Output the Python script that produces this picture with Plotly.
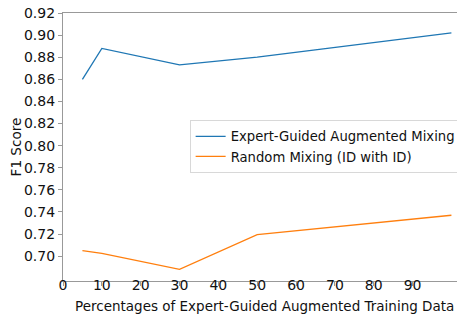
import plotly.graph_objects as go

x_vals = [5, 10, 30, 50, 100]
expert_guided = [0.860, 0.888, 0.873, 0.880, 0.902]
random_mixing = [0.705, 0.7025, 0.688, 0.7195, 0.737]
x_ticks = [0, 10, 20, 30, 40, 50, 60, 70, 80, 90]
y_ticks = [0.70, 0.72, 0.74, 0.76, 0.78, 0.80, 0.82, 0.84, 0.86, 0.88, 0.90, 0.92]
x_title = "Percentages of Expert-Guided Augmented Training Data"
y_title = "F1 Score"
x_range = [0, 103.5]

fig = go.Figure()
fig.add_trace(go.Scatter(x=x_vals, y=expert_guided, mode="lines",
                         name="Expert-Guided Augmented Mixing",
                         line=dict(color="#1f77b4", width=1.3)))
fig.add_trace(go.Scatter(x=x_vals, y=random_mixing, mode="lines",
                         name="Random Mixing (ID with ID)",
                         line=dict(color="#ff7f0e", width=1.3)))
# invisible helper trace so the label-carrying x axis is drawn
fig.add_trace(go.Scatter(x=x_vals, y=expert_guided, xaxis="x2", yaxis="y",
                         mode="lines", line=dict(width=0), opacity=0,
                         showlegend=False, hoverinfo="skip"))

font = dict(family="DejaVu Sans", size=14, color="#111")
# page body has an 8px default margin, so the figure is sized to fit the window
fig.update_layout(
    width=457, height=310,
    margin=dict(l=55, r=0, t=4.5, b=37, autoexpand=False),
    paper_bgcolor="white", plot_bgcolor="white",
    font=font,
    showlegend=True,
    legend=dict(x=0.315, y=0.6, xanchor="left", yanchor="top",
                bordercolor="#d8d8d8", borderwidth=1, bgcolor="white",
                font=dict(family="DejaVu Sans", size=13.2, color="#111"),
                tracegroupgap=0),
    xaxis=dict(range=x_range, tickvals=x_ticks, showgrid=False, zeroline=False,
               showline=True, linecolor="#999", linewidth=1.2, mirror=True,
               ticks="outside", ticklen=4, tickcolor="#999", automargin=False,
               showticklabels=False),
    # label-carrying copy of the x axis, lifted a few pixels closer to the plot
    xaxis2=dict(range=x_range, tickvals=x_ticks, overlaying="x",
                anchor="free", position=0.024, side="bottom",
                showgrid=False, zeroline=False, showline=False, ticks="",
                automargin=False, ticklabeloverflow="allow"),
    yaxis=dict(range=[0.6775, 0.92], tickvals=y_ticks, tickformat=".2f",
               showgrid=False, zeroline=False, automargin=False,
               showline=True, linecolor="#999", linewidth=1.2,
               ticks="outside", ticklen=4, tickcolor="#999",
               ticklabeloverflow="allow",
               title=dict(text=y_title, standoff=4,
                          font=dict(family="DejaVu Sans", size=13.6))),
    annotations=[dict(text=x_title, xref="paper", yref="paper",
                      x=0.5, y=-0.093, xanchor="center", yanchor="middle",
                      showarrow=False,
                      font=dict(family="DejaVu Sans", size=13.5, color="#111"))],
)

fig.write_html("out.html")
